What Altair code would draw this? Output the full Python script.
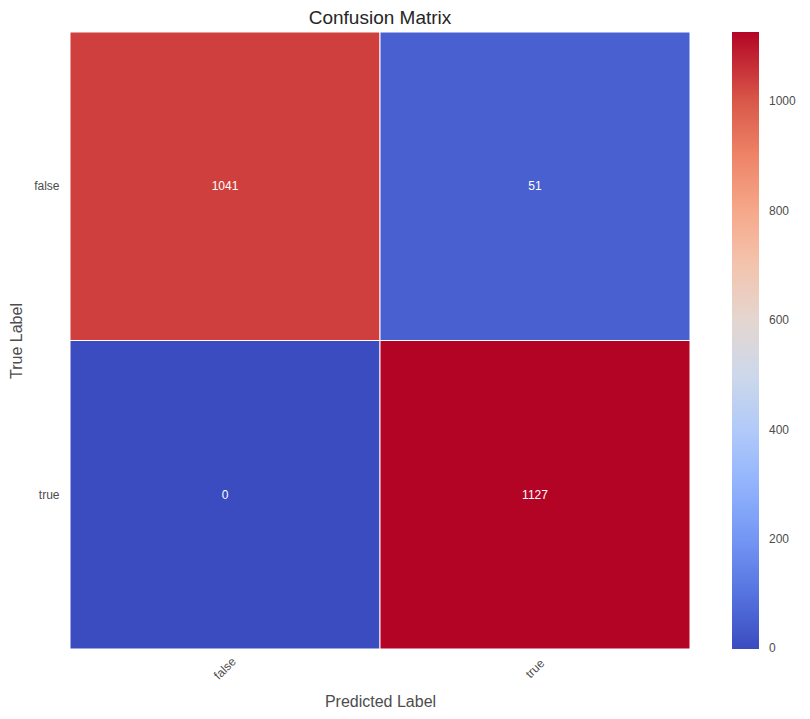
import pandas as pd
import altair as alt

true_labels = ["false", "false", "true", "true"]
pred_labels = ["false", "true", "false", "true"]
counts = [1041, 51, 0, 1127]
categories = ["false", "true"]
legend_ticks = [0, 200, 400, 600, 800, 1000]
# matplotlib "coolwarm" sampled at 11 stops
coolwarm = ["#3b4cc0", "#5977e3", "#7b9ff9", "#9ebeff", "#c0d4f5", "#dddcdc",
            "#f2cbb7", "#f7ac8e", "#ee8468", "#d65244", "#b40426"]

df = pd.DataFrame({"true": true_labels, "pred": pred_labels, "count": counts})

font = "Liberation Sans"
label_grey = "#4d4d4d"

base = alt.Chart(df).encode(
    alt.X("pred:N", sort=categories, title="Predicted Label",
          axis=alt.Axis(labelAngle=-45, labelAlign="center", labelBaseline="middle",
                        labelPadding=19, titleY=57, titleBaseline="alphabetic",
                        ticks=False, domain=False,
                        labelFontSize=12, titleFontSize=16, labelColor=label_grey,
                        titleColor=label_grey, titleFontWeight="normal",
                        labelFont=font, titleFont=font)),
    alt.Y("true:N", sort=categories, title="True Label",
          axis=alt.Axis(labelAngle=0, labelPadding=11, titleX=-49,
                        titleBaseline="alphabetic", ticks=False,
                        domain=False, labelFontSize=12, titleFontSize=16,
                        labelColor=label_grey, titleColor=label_grey,
                        titleFontWeight="normal", labelFont=font, titleFont=font)),
)

heat = base.mark_rect(stroke="white", strokeWidth=1).encode(
    alt.Color("count:Q",
              scale=alt.Scale(domain=[-1, 1127], range=coolwarm, interpolate="rgb"),
              legend=alt.Legend(title=None, orient="none", legendX=662, legendY=0,
                                gradientLength=617, gradientThickness=27,
                                gradientStrokeWidth=0, values=legend_ticks,
                                format="d", labelBaseline="middle",
                                labelFontSize=12, labelColor=label_grey,
                                labelFont=font, labelOffset=10))
)

text = base.mark_text(fontSize=12, color="white", font=font).encode(
    text="count:Q"
)

chart = alt.layer(heat, text).properties(
    width=620,
    height=617,
    title=alt.TitleParams("Confusion Matrix", fontSize=19, font=font,
                          fontWeight="normal", color="#262626", offset=4),
    autosize=alt.AutoSizeParams(type="none"),
    padding={"left": 62, "top": 24, "right": 110, "bottom": 60},
).configure_view(stroke=None).configure_scale(bandPaddingInner=0, bandPaddingOuter=0)

chart.save("out.html", embed_options={"renderer": "svg", "actions": False})
